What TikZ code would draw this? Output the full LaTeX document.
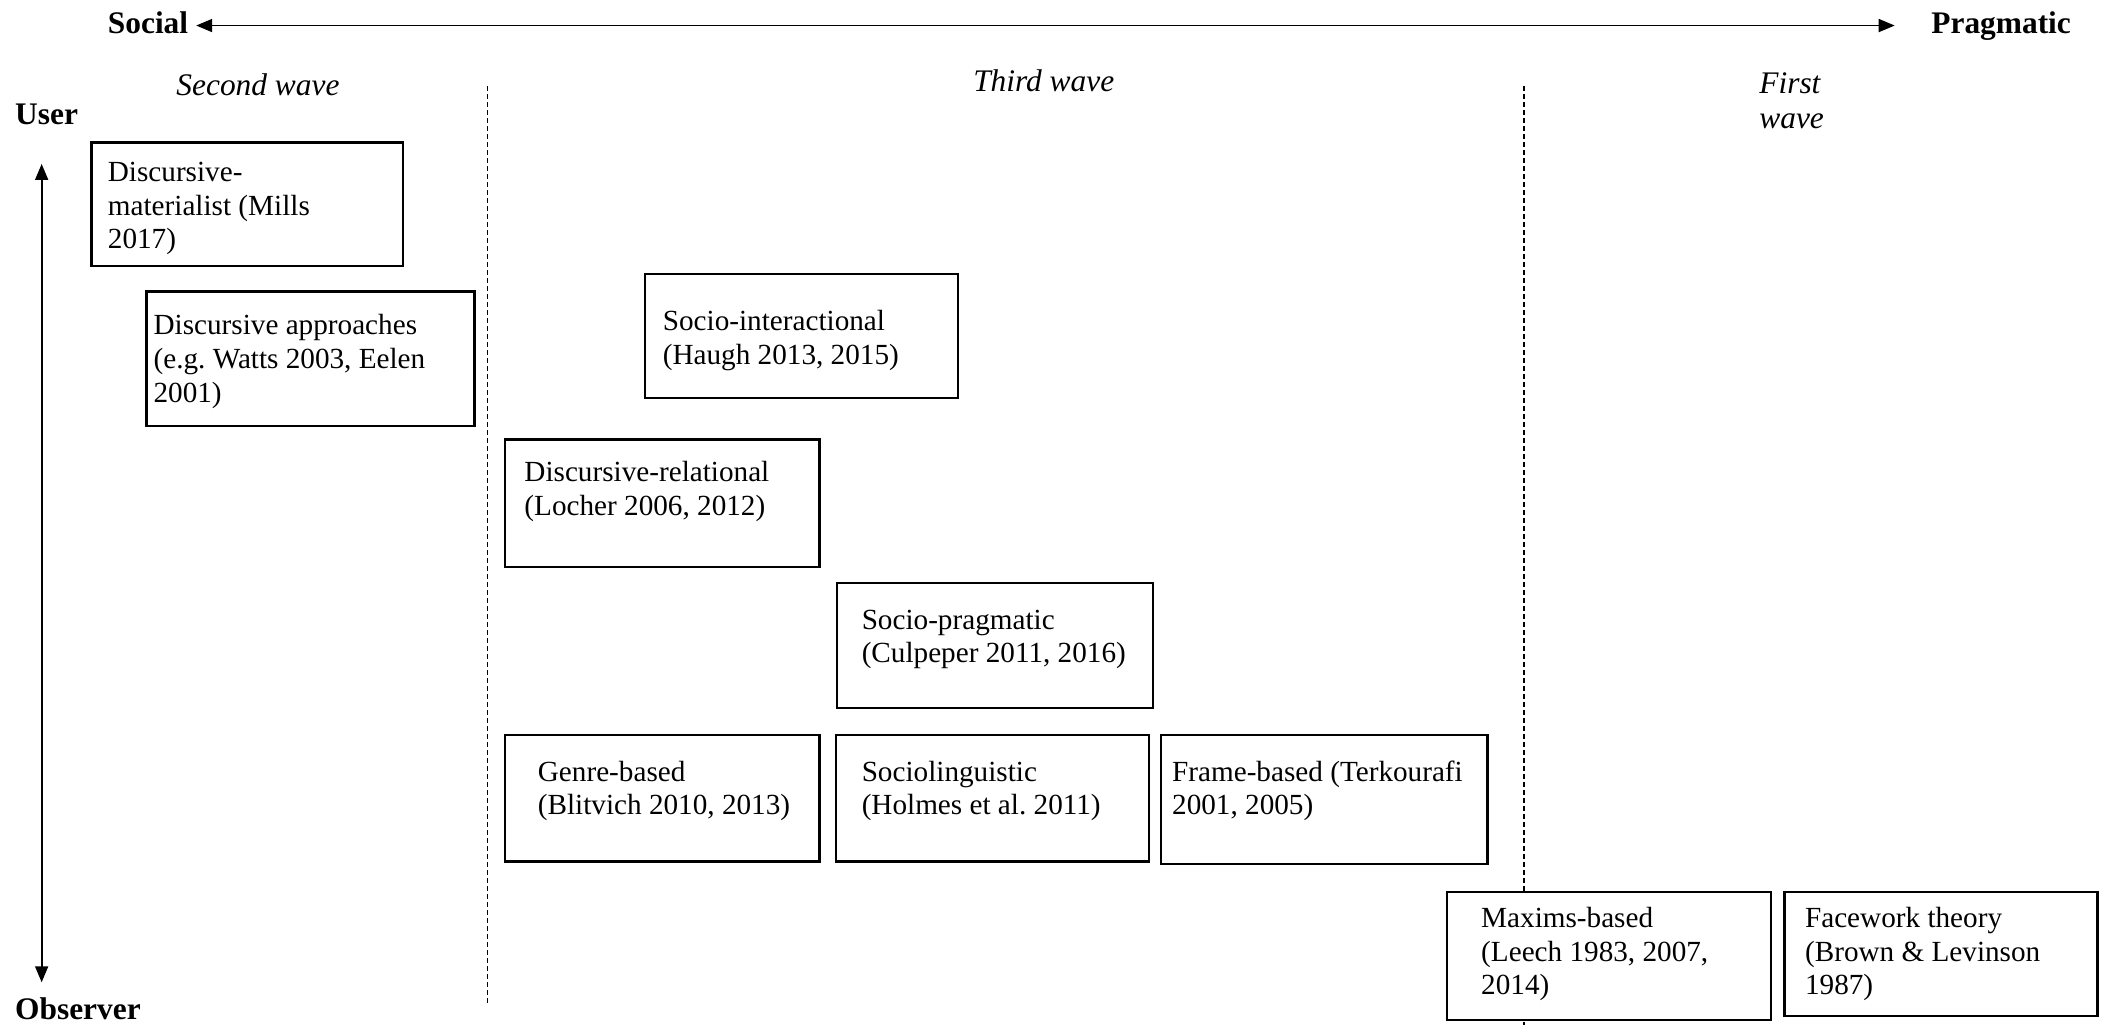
\documentclass[tikz,border=0pt]{standalone}
\usepackage{fontspec}
\setmainfont{Liberation Serif}
\usetikzlibrary{arrows.meta,fit}
\newcommand\bxstrut{\rule{0pt}{11.6pt}}
\newcommand\lbstrut{\rule{0pt}{12.25pt}}
\frenchspacing
\begin{document}
\begin{tikzpicture}[x=0.6719pt,y=-0.6719pt,
  box/.style={draw, fill=white, line width=1.2pt, inner sep=0pt},
  txt/.style={anchor=north west, inner sep=0pt, align=left, font=\fontsize{14.6}{16.8}\selectfont},
  lbl/.style={anchor=base west, inner sep=0pt, font=\fontsize{15.7}{17.5}\selectfont\bfseries},
  wave/.style={anchor=base west, inner sep=0pt, font=\fontsize{15.7}{17.5}\selectfont\itshape},
  axis/.style={line width=0.85pt, {Triangle[length=8pt,width=6.5pt]}-{Triangle[length=8pt,width=6.5pt]}},
  divider/.style={line width=0.7pt, dash pattern=on 2.5pt off 1.5pt}]

\useasboundingbox (0,0) rectangle (1568,763);

% axis labels
\node[lbl] (social) at (80,25) {Social};
\node[lbl] (pragmatic) at (1437,25) {Pragmatic};
\node[lbl] (user) at (11,92.5) {User};
\node[lbl] (observer) at (11,759) {Observer};

% axes
\coordinate (hl) at (146,19);
\coordinate (hr) at (1410,19);
\draw[axis] (hl) -- (hr);
\coordinate (vt) at (31,122);
\coordinate (vb) at (31,731);
\draw[axis] (vt) -- (vb);

% wave labels
\node[wave] (second) at (131,71) {Second wave};
\node[wave] (third) at (724,68) {Third wave};
\node[wave, anchor=north west, align=left] (first) at (1309,50.8) {\lbstrut First\\wave};

% dividers
\coordinate (d1t) at (363,64);
\coordinate (d1b) at (363,748);
\coordinate (d2t) at (1134,64);
\coordinate (d2b) at (1134,763);
\draw[divider] (d1t) -- (d1b);
\draw[divider] (d2t) -- (d2b);

% boxes
\node[box, fit={(68,106) (300,198)}] (b1) {};
\node[box, fit={(109,217) (353,317)}] (b2) {};
\node[box, fit={(480,204) (713,296)}] (b3) {};
\node[box, fit={(376,327) (610,422)}] (b4) {};
\node[box, fit={(623,434) (858,527)}] (b5) {};
\node[box, fit={(376,547) (610,641)}] (b6) {};
\node[box, fit={(622,547) (855,641)}] (b7) {};
\node[box, fit={(864,547) (1107,643)}] (b8) {};
\node[box, fit={(1077,664) (1318,759)}] (b9) {};
\node[box, fit={(1328,664) (1561,756)}] (b10) {};

% box texts
\node[txt] (t1) at (80,117.7) {\bxstrut Discursive-\\materialist (Mills\\2017)};
\node[txt] (t2) at (114,231.7) {\bxstrut Discursive approaches\\(e.g. Watts 2003, Eelen\\2001)};
\node[txt] (t3) at (493,228.7) {\bxstrut Socio-interactional\\(Haugh 2013, 2015)};
\node[txt] (t4) at (390,340.7) {\bxstrut Discursive-relational\\(Locher 2006, 2012)};
\node[txt] (t5) at (641,450.7) {\bxstrut Socio-pragmatic\\(Culpeper 2011, 2016)};
\node[txt] (t6) at (400,563.7) {\bxstrut Genre-based\\(Blitvich 2010, 2013)};
\node[txt] (t7) at (641,563.7) {\bxstrut Sociolinguistic\\(Holmes et al. 2011)};
\node[txt] (t8) at (872,563.7) {\bxstrut Frame-based (Terkourafi\\2001, 2005)};
\node[txt] (t9) at (1102,672.7) {\bxstrut Maxims-based\\(Leech 1983, 2007,\\2014)};
\node[txt] (t10) at (1343,672.7) {\bxstrut Facework theory\\(Brown \& Levinson\\1987)};
\end{tikzpicture}
\end{document}
